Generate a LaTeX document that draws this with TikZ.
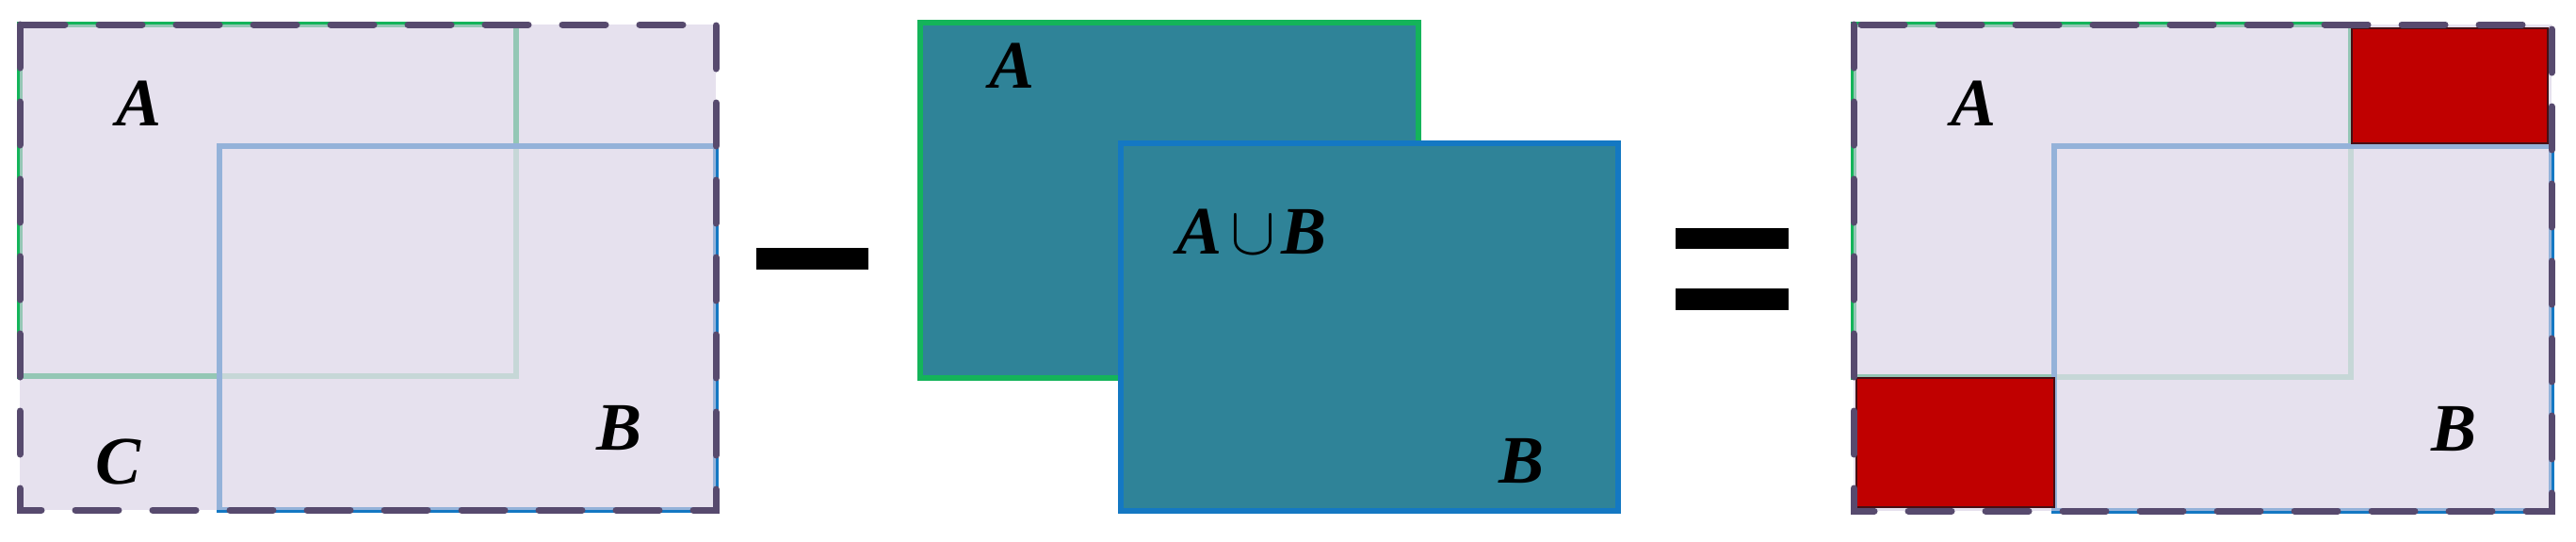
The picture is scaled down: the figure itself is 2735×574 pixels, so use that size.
\RequirePackage{fix-cm}
\documentclass[tikz,border=0pt]{standalone}
\usepackage{fontspec}
\setmainfont{Liberation Serif}
\begin{document}
\begin{tikzpicture}[x=1pt,y=-1pt]
\definecolor{dashcol}{RGB}{87,74,110}
\definecolor{lav}{RGB}{218,210,230}
\definecolor{agreen}{RGB}{20,180,90}
\definecolor{bblue}{RGB}{20,120,195}
\definecolor{teal}{RGB}{47,131,152}
\definecolor{redbox}{RGB}{192,0,0}
\definecolor{redline}{RGB}{70,15,20}
\tikzset{
  lbl/.style={inner sep=0pt, font=\fontsize{72}{80}\selectfont\bfseries\itshape},
  aline/.style={draw=agreen, line width=6pt},
  bline/.style={draw=bblue, line width=6pt},
  paleover/.style={fill=white, fill opacity=0.6},
  lavover/.style={fill=lav, fill opacity=0.65},
  outerdash/.style={draw=dashcol, line width=7pt, dash pattern=on 46pt off 36pt, line cap=round},
  redrect/.style={fill=redbox, draw=redline, line width=2pt},
  opbar/.style={fill=black, draw=none, inner sep=0pt}
}
\useasboundingbox (0,0) rectangle (2735,574);
\fill[white] (0,0) rectangle (2735,574);

% ---------- panel 1 ----------
\draw[aline] (21,26) rectangle (548,399);
\fill[paleover] (233,155) rectangle (760,541);
\draw[bline] (233,155) rectangle (760,541);
\fill[lavover] (21,26) rectangle (760,541);
\draw[outerdash] (21,26) rectangle (760,541);
\node[lbl] (p1a) at (148,110) {A};
\node[lbl] (p1b) at (658,454) {B};
\node[lbl] (p1c) at (126,490) {C};

% ---------- minus ----------
\node[opbar, minimum width=119pt, minimum height=23pt] (minus) at (862.5,274.5) {};

% ---------- panel 2 ----------
\draw[fill=teal, draw=agreen, line width=6pt] (977,24) rectangle (1506,401);
\draw[fill=teal, draw=bblue, line width=6pt] (1190,152) rectangle (1718,542);
\node[lbl] (p2a) at (1074,70) {A};
\node[lbl] (p2ab) at (1329,246) {A\hspace{8pt}$\cup$\hspace{6pt}B};
\node[lbl] (p2b) at (1615,489) {B};

% ---------- equals ----------
\node[opbar, minimum width=120pt, minimum height=22pt] (equp) at (1839,253) {};
\node[opbar, minimum width=120pt, minimum height=23pt] (eqlo) at (1839,317.5) {};

% ---------- panel 3 ----------
\draw[aline] (1968,26) rectangle (2496,400);
\fill[paleover] (2181,155) rectangle (2709,542);
\draw[bline] (2181,155) rectangle (2709,542);
\fill[lavover] (1968,26) rectangle (2709,542);
\draw[redrect] (2497,30) rectangle (2705,152);
\draw[redrect] (1971,401) rectangle (2181,538);
\draw[outerdash] (1968,26) rectangle (2709,542);
\node[lbl] (p3a) at (2095,110) {A};
\node[lbl] (p3b) at (2605,455) {B};
\end{tikzpicture}
\end{document}
